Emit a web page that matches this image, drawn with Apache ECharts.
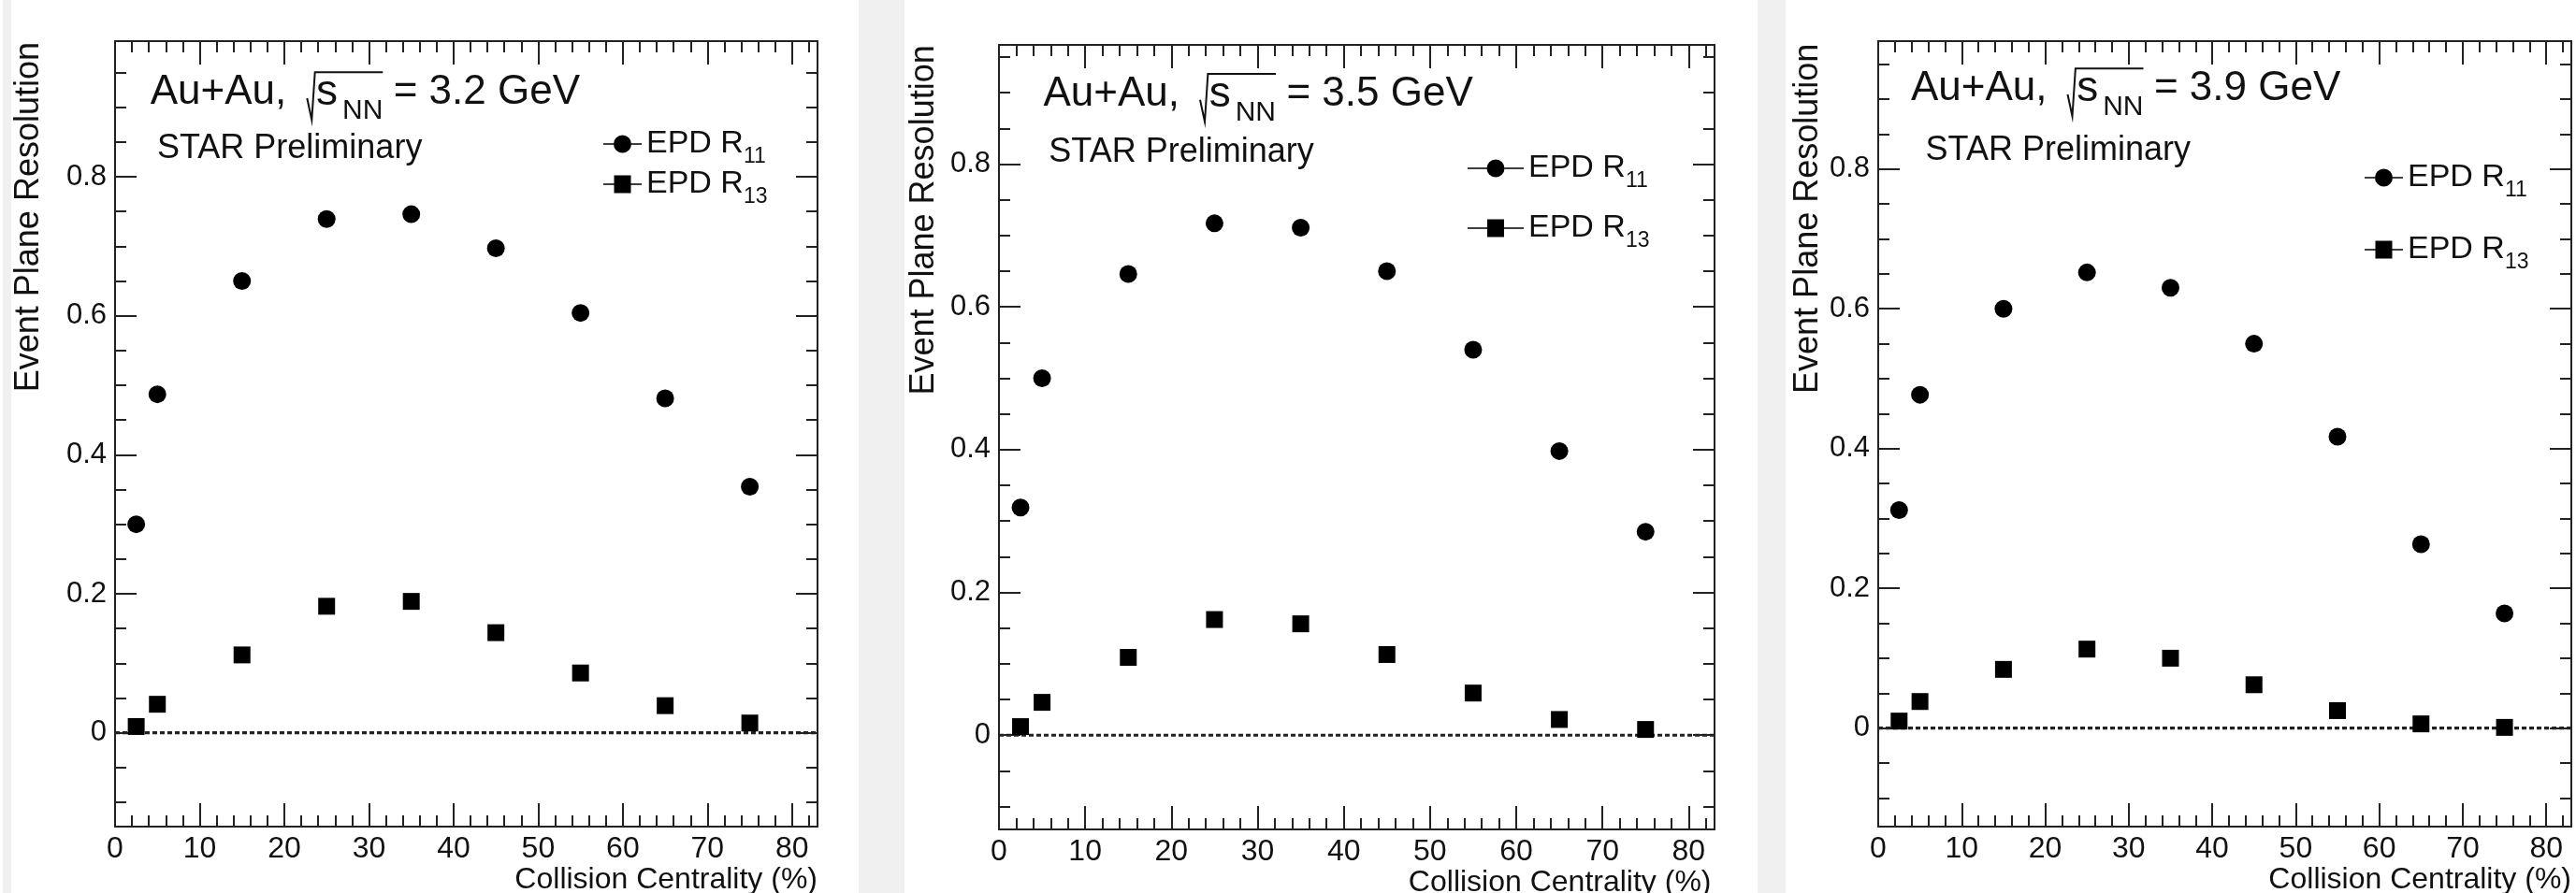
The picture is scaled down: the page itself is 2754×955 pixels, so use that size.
<!DOCTYPE html>
<html>
<head>
<meta charset="utf-8">
<style>
html, body { margin: 0; padding: 0; background: #fff; }
#box { width: 2754px; height: 955px; }
</style>
<script src="https://cdn.jsdelivr.net/npm/echarts@6.0.0/dist/echarts.min.js"></script>
</head>
<body>
<div id="box"></div>
<script>
var mychart = echarts.init(document.getElementById("box"));

// collision centrality bin centres (%)
var centrality = [2.5, 5, 15, 25, 35, 45, 55, 65, 75];
var energies = ['3.2', '3.5', '3.9'];

// EPD R11 / R13 for each beam energy
var r11_32 = [0.300, 0.487, 0.650, 0.739, 0.746, 0.697, 0.604, 0.481, 0.354];
var r13_32 = [0.009, 0.041, 0.112, 0.182, 0.189, 0.144, 0.086, 0.039, 0.014];
var r11_35 = [0.319, 0.500, 0.646, 0.717, 0.711, 0.650, 0.540, 0.398, 0.285];
var r13_35 = [0.012, 0.046, 0.109, 0.162, 0.156, 0.113, 0.059, 0.022, 0.008];
var r11_39 = [0.312, 0.477, 0.600, 0.652, 0.630, 0.550, 0.417, 0.263, 0.164];
var r13_39 = [0.010, 0.038, 0.084, 0.113, 0.100, 0.062, 0.025, 0.006, 0.001];
var r11 = [r11_32, r11_35, r11_39];
var r13 = [r13_32, r13_35, r13_39];

// dotted reference line at zero
var zeroLine = [[0, 0], [83, 0]];

// axis ranges and ticks
var xMin = 0, xMax = 83;
var yMin = [-0.135, -0.132, -0.141];
var yMax = [0.995, 0.967, 0.983];
var xMajor = [0, 10, 20, 30, 40, 50, 60, 70, 80];
var xMinor = [2, 4, 6, 8, 12, 14, 16, 18, 22, 24, 26, 28, 32, 34, 36, 38, 42, 44, 46, 48,
              52, 54, 56, 58, 62, 64, 66, 68, 72, 74, 76, 78, 82];
var yMajor = [0, 0.2, 0.4, 0.6, 0.8];
var yMinor = [-0.1, -0.05, 0.05, 0.1, 0.15, 0.25, 0.3, 0.35, 0.45, 0.5, 0.55,
              0.65, 0.7, 0.75, 0.85, 0.9, 0.95];

var font = 'Liberation Sans, Arial, Helvetica, sans-serif';
var ink = '#111';
var frame = {color: '#222', width: 2};

// pad layout (px)
var pads = [
    {left: 123, top: 44, right: 874, bottom: 884, tdx: 0, tdy: 0,
     star: [168, 158.8], ytitle: [30.8, 45], xtitle: [874, 941.5],
     leg: {left: 645, top: 137, w: 41, gap: 1}},
    {left: 1068, top: 48, right: 1833, bottom: 887, tdx: 954.7, tdy: 1.7,
     star: [1121.3, 162.8], ytitle: [988, 48.3], xtitle: [1829.5, 944.5],
     leg: {left: 1569, top: 163, w: 60, gap: 22}},
    {left: 2008, top: 44, right: 2749, bottom: 884, tdx: 1882.2, tdy: -4,
     star: [2058.6, 161.1], ytitle: [1933.3, 46.7], xtitle: [2749, 941.5],
     leg: {left: 2528, top: 173, w: 41, gap: 35}}
];

function txt(x, y, text, size, align, rot) {
    return {
        type: 'text', x: x, y: y, rotation: rot || 0, silent: true, z: 50,
        style: {
            text: text, fontSize: size, fontFamily: font, fill: ink,
            align: align || 'left', verticalAlign: 'middle',
            textAlign: align || 'left', textVerticalAlign: 'middle'
        }
    };
}

// legend icon: marker with a short line through it
function legendIcon(w, shape) {
    var c = w / 2, y0 = 8.8, y1 = 10.2, r = 9.5;
    var half = shape === 'circle' ? 9.5 : 9;
    var p = 'path://M0,' + y0 + 'H' + (c - half) + 'V' + y1 + 'H0Z' +
        'M' + (c + half) + ',' + y0 + 'H' + w + 'V' + y1 + 'H' + (c + half) + 'Z';
    if (shape === 'circle') {
        p += 'M' + (c - r) + ',9.5A' + r + ',' + r + ' 0 1,0 ' + (c + r) + ',9.5' +
             'A' + r + ',' + r + ' 0 1,0 ' + (c - r) + ',9.5Z';
    } else {
        p += 'M' + (c - 9) + ',0H' + (c + 9) + 'V19H' + (c - 9) + 'Z';
    }
    return p;
}

var grids = [], xAxes = [], yAxes = [], series = [], legends = [], graphics = [];

// grey gutters between the pads
[[3, 9], [918, 49], [1879, 30]].forEach(function (g) {
    graphics.push({type: 'rect', silent: true, z: -10,
        shape: {x: g[0], y: 0, width: g[1], height: 955}, style: {fill: '#f0f0f0'}});
});

pads.forEach(function (p, i) {
    grids.push({left: p.left, top: p.top, width: p.right - p.left, height: p.bottom - p.top,
        outerBoundsMode: 'none', show: false});

    ['bottom', 'top'].forEach(function (pos) {
        [true, false].forEach(function (major) {
            xAxes.push({
                gridIndex: i, type: 'value', position: pos, min: xMin, max: xMax,
                axisLine: {show: major, onZero: false, lineStyle: frame},
                axisTick: {show: true, inside: true, length: major ? 25 : 12,
                    customValues: major ? xMajor : xMinor, lineStyle: frame},
                axisLabel: {show: major && pos === 'bottom', customValues: xMajor, margin: 8,
                    fontSize: 32, fontFamily: font, color: ink},
                splitLine: {show: false}
            });
        });
    });
    ['left', 'right'].forEach(function (pos) {
        [true, false].forEach(function (major) {
            yAxes.push({
                gridIndex: i, type: 'value', position: pos, min: yMin[i], max: yMax[i],
                axisLine: {show: major, onZero: false, lineStyle: frame},
                axisTick: {show: true, inside: true, length: major ? 23 : 12,
                    customValues: major ? yMajor : yMinor, lineStyle: frame},
                axisLabel: {show: major && pos === 'left', customValues: yMajor, margin: 9,
                    fontSize: 31, fontFamily: font, color: ink},
                splitLine: {show: false}
            });
        });
    });

    var ax = 4 * i;
    series.push({
        type: 'line', xAxisIndex: ax, yAxisIndex: ax, data: zeroLine, silent: true,
        showSymbol: false, symbol: 'none', z: 1,
        lineStyle: {color: '#222', width: 3.2, type: [5, 3]}
    });
    series.push({
        type: 'scatter', name: 'EPD R11', xAxisIndex: ax, yAxisIndex: ax, z: 3,
        symbol: 'circle', symbolSize: 19, itemStyle: {color: '#000', opacity: 1},
        data: centrality.map(function (c, k) { return [c, r11[i][k]]; })
    });
    series.push({
        type: 'scatter', name: 'EPD R13', xAxisIndex: ax, yAxisIndex: ax, z: 3,
        symbol: 'rect', symbolSize: 18, itemStyle: {color: '#000', opacity: 1},
        data: centrality.map(function (c, k) { return [c, r13[i][k]]; })
    });

    legends.push({
        orient: 'vertical', left: p.leg.left, top: p.leg.top, padding: 0,
        itemWidth: p.leg.w, itemHeight: 19, itemGap: p.leg.gap,
        symbolKeepAspect: false, selectedMode: false,
        data: [{name: 'EPD R11', icon: legendIcon(p.leg.w, 'circle')},
               {name: 'EPD R13', icon: legendIcon(p.leg.w, 'rect')}],
        formatter: function (name) { return '{a|EPD R}{b|' + name.slice(5) + '}'; },
        textStyle: {
            color: ink, fontSize: 34, fontFamily: font,
            rich: {
                a: {fontSize: 34, fontFamily: font, color: ink, lineHeight: 50},
                b: {fontSize: 23, fontFamily: font, color: ink, verticalAlign: 'bottom'}
            }
        }
    });

    // pad caption: Au+Au, sqrt(s_NN) = x GeV
    var dx = p.tdx, dy = p.tdy;
    graphics.push(txt(160.7 + dx, 99.2 + dy, 'Au+Au,', 44));
    graphics.push({
        type: 'polyline', silent: true, z: 50,
        shape: {points: [[328.3 + dx, 105 + dy], [333.3 + dx, 128.3 + dy],
                         [336.7 + dx, 77.3 + dy], [409.3 + dx, 77.3 + dy]]},
        style: {stroke: ink, lineWidth: 2, fill: null}
    });
    graphics.push(txt(338 + dx, 99.2 + dy, 's', 46));
    graphics.push(txt(366 + dx, 119 + dy, 'NN', 30));
    graphics.push(txt(420.7 + dx, 99.2 + dy, '= ' + energies[i] + ' GeV', 44));
    graphics.push(txt(p.star[0], p.star[1], 'STAR Preliminary', 36));
    graphics.push(txt(p.ytitle[0], p.ytitle[1], 'Event Plane Resolution', 36, 'right', Math.PI / 2));
    graphics.push(txt(p.xtitle[0], p.xtitle[1], 'Collision Centrality (%)', 32, 'right'));
});

var options = {
    backgroundColor: '#fff',
    animation: false,
    grid: grids,
    xAxis: xAxes,
    yAxis: yAxes,
    legend: legends,
    graphic: graphics,
    series: series
};

mychart.setOption(options);
</script>
</body>
</html>
